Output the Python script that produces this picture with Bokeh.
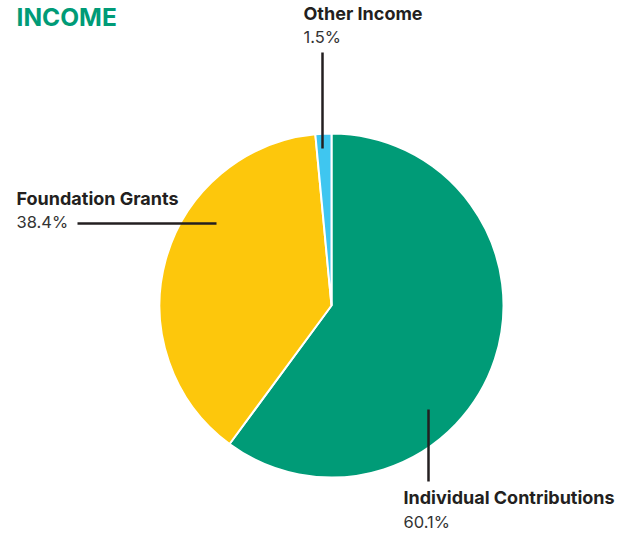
import math
from bokeh.plotting import figure
from bokeh.models import Range1d, ColumnDataSource
from bokeh.core.properties import value
from bokeh.embed import file_html
from bokeh.resources import INLINE

categories = ["Individual Contributions", "Foundation Grants", "Other Income"]
shares = [60.1, 38.4, 1.5]
pct_labels = ["60.1%", "38.4%", "1.5%"]
palette = ["#009B77", "#FDC70C", "#3FC6F0"]

W, H = 634, 533
p = figure(width=W, height=H, output_backend="svg", toolbar_location=None,
           x_range=Range1d(0, W), y_range=Range1d(0, H), min_border=0)
p.axis.visible = False
p.grid.visible = False
p.outline_line_color = None
p.background_fill_color = "white"
p.border_fill_color = "white"

def Y(y):
    return H - y

cx, cy, r = 331, Y(305), 172
total = sum(shares)
starts, ends = [], []
a = math.pi / 2
for s in shares:
    starts.append(a)
    a -= 2 * math.pi * s / total
    ends.append(a)
src = ColumnDataSource(dict(start=starts, end=ends, color=palette, cat=categories))
p.wedge(x=cx, y=cy, radius=r, start_angle="start", end_angle="end", direction="clock",
        fill_color="color", line_color="white", line_width=2, source=src)

# leader lines
p.segment(x0=[322, 77, 428], y0=[Y(52), Y(223), Y(409)],
          x1=[322, 216, 428], y1=[Y(148), Y(223), Y(481)],
          line_color="#231f20", line_width=2.5)

font = value("Inter")
p.text(x=[16], y=[Y(16)], text=["INCOME"], text_font=font, text_font_style="bold",
       text_font_size="24.5px", text_color="#009B77", text_baseline="alphabetic")

lx = [403, 16, 303]
ly_title = [Y(497), Y(198), Y(12.5)]
ly_pct = [Y(521), Y(221.5), Y(36.5)]
p.text(x=lx, y=ly_title, text=categories, text_font=font, text_font_style="bold",
       text_font_size="18px", text_color="#231f20", text_baseline="alphabetic")
p.text(x=lx, y=ly_pct, text=pct_labels, text_font=font,
       text_font_size="16.5px", text_color="#333333", text_baseline="alphabetic")

open("out.html", "w").write(file_html(p, INLINE))
